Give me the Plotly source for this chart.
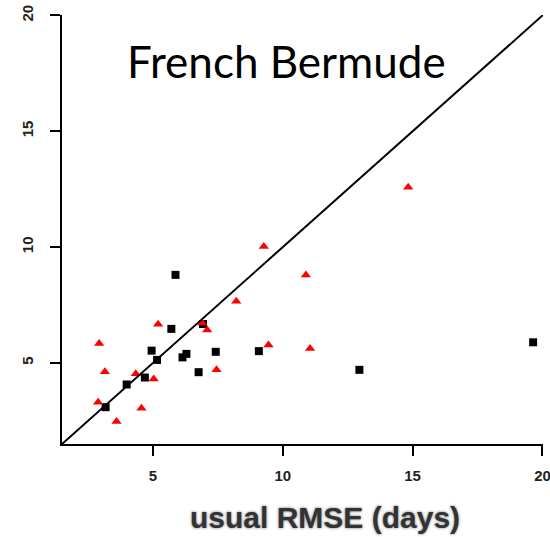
import plotly.graph_objects as go

# RMSE pairs: usual method (x) vs. alternative method (y), in days
square_x = [3.18, 3.99, 4.69, 4.95, 5.16, 5.71, 5.87, 6.14, 6.29, 6.76, 6.93, 7.42, 9.08, 12.95, 19.64]
square_y = [3.09, 4.07, 4.37, 5.53, 5.13, 6.47, 8.80, 5.24, 5.39, 4.60, 6.68, 5.48, 5.51, 4.70, 5.89]

triangle_x = [2.89, 2.93, 3.15, 3.60, 4.34, 4.56, 5.03, 5.20, 6.90, 7.09, 7.45, 8.21, 9.27, 9.45, 10.89, 11.05, 14.83]
triangle_y = [3.30, 5.84, 4.62, 2.47, 4.53, 3.04, 4.31, 6.67, 6.72, 6.42, 4.71, 7.66, 10.03, 5.77, 8.80, 5.62, 12.58]

axis_min, axis_max = 1.5, 20.02
tick_vals = [5, 10, 15, 20]
tick_text = ["5", "10", "15", "20"]

fig = go.Figure()

fig.add_trace(go.Scatter(
    x=square_x, y=square_y, mode="markers",
    marker=dict(symbol="square", size=8, color="#000000", line=dict(width=0)),
    showlegend=False, hoverinfo="skip",
))
fig.add_trace(go.Scatter(
    x=triangle_x, y=triangle_y, mode="markers",
    marker=dict(symbol="triangle-up", size=9, color="#ff0000", line=dict(width=0)),
    showlegend=False, hoverinfo="skip",
))
# identity line y = x
fig.add_trace(go.Scatter(
    x=[axis_min, axis_max], y=[axis_min, axis_max], mode="lines",
    line=dict(color="#000000", width=2),
    showlegend=False, hoverinfo="skip",
))

tick_font = dict(family="Liberation Sans, Arial, sans-serif", size=15, color="#222222", weight="bold")

fig.update_xaxes(
    range=[axis_min, axis_max], tickvals=tick_vals, ticktext=tick_text,
    showgrid=False, zeroline=False, showline=True, linecolor="#000000", linewidth=2,
    ticks="outside", ticklen=10, tickwidth=2, tickcolor="#000000",
    tickfont=tick_font, ticklabelstandoff=7, ticklabeloverflow="allow",
)
fig.update_yaxes(
    range=[axis_min, axis_max], tickvals=tick_vals, ticktext=tick_text,
    showgrid=False, zeroline=False, showline=True, linecolor="#000000", linewidth=2,
    ticks="outside", ticklen=10, tickwidth=2, tickcolor="#000000",
    tickfont=tick_font, tickangle=-90, ticklabelstandoff=11, ticklabeloverflow="allow",
)

fig.add_annotation(
    text="French Bermude", xref="paper", yref="paper", x=0.130, y=0.893,
    xanchor="left", yanchor="middle", showarrow=False,
    font=dict(family="Lato, Noto Sans, sans-serif", size=44, color="#000000"),
)
fig.add_annotation(
    text="usual RMSE (days)", xref="paper", yref="paper", x=0.546, y=-0.172,
    xanchor="center", yanchor="middle", showarrow=False,
    font=dict(family="Liberation Sans, Arial, sans-serif", size=30, color="#333333",
              weight="bold", shadow="0px 0px 3px rgba(0,0,0,0.55)"),
)

fig.update_layout(
    width=550, height=537,
    margin=dict(l=62, r=7, t=15, b=93, autoexpand=False),
    plot_bgcolor="#ffffff", paper_bgcolor="#ffffff",
)

fig.write_html("out.html")
